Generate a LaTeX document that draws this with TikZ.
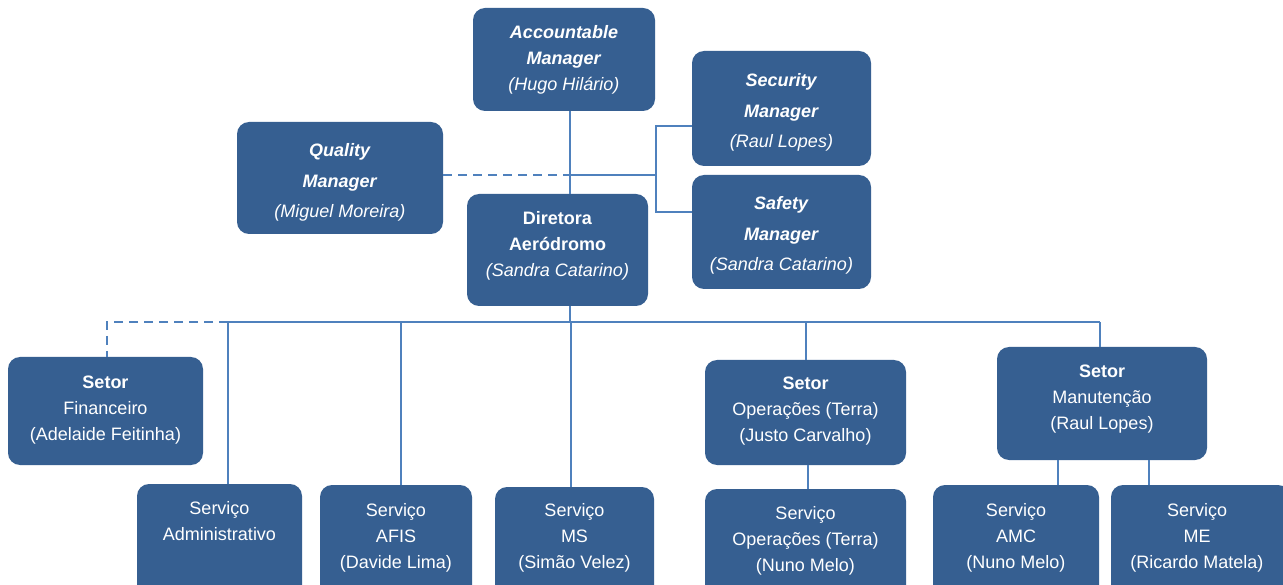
\documentclass[tikz,border=0pt]{standalone}
\usepackage{fontspec}
\setmainfont{Liberation Sans}
\definecolor{boxblue}{HTML}{365F91}
\definecolor{lineblue}{HTML}{4F81BD}
\begin{document}
\begin{tikzpicture}[x=1pt,y=-1pt,
  box/.style={fill=boxblue, rounded corners=12pt, inner sep=0pt},
  txt/.style={text=white, align=center, inner sep=0pt, anchor=north, font=\fontsize{18}{26}\selectfont},
  wtxt/.style={txt, font=\fontsize{18}{30.5}\selectfont},
  link/.style={draw=lineblue, line width=2pt},
  dlink/.style={link, dash pattern=on 9pt off 6pt}]
\clip (0,0) rectangle (1283,585);
\fill[white] (0,0) rectangle (1283,585);
% boxes
\node[box, minimum width=182, minimum height=103] (acc) at (564,59.5) {};
\node[box, minimum width=179, minimum height=115] (sec) at (781.5,108.5) {};
\node[box, minimum width=179, minimum height=114] (saf) at (781.5,232) {};
\node[box, minimum width=206, minimum height=112] (qua) at (340,178) {};
\node[box, minimum width=181, minimum height=112] (dir) at (557.5,250) {};
\node[box, minimum width=195, minimum height=108] (fin) at (105.5,411) {};
\node[box, minimum width=165, minimum height=116] (adm) at (219.5,542) {};
\node[box, minimum width=152, minimum height=115] (afi) at (396,542.5) {};
\node[box, minimum width=159, minimum height=113] (ms) at (574.5,543.5) {};
\node[box, minimum width=201, minimum height=105] (sop) at (805.5,412.5) {};
\node[box, minimum width=201, minimum height=111] (svo) at (805.5,544.5) {};
\node[box, minimum width=210, minimum height=113] (sma) at (1102,403.5) {};
\node[box, minimum width=166, minimum height=115] (amc) at (1016,542.5) {};
\node[box, minimum width=179, minimum height=115] (me) at (1200.5,542.5) {};
% texts
\node[txt] (acct) at (564,25.5) {\textbf{\textit{Accountable}}\\\textbf{\textit{Manager}}\\\textit{(Hugo Hilário)}};
\node[wtxt] (sect) at (781.5,73.5) {\textbf{\textit{Security}}\\\textbf{\textit{Manager}}\\\textit{(Raul Lopes)}};
\node[wtxt] (saft) at (781.5,196.5) {\textbf{\textit{Safety}}\\\textbf{\textit{Manager}}\\\textit{(Sandra Catarino)}};
\node[wtxt] (quat) at (340,143.5) {\textbf{\textit{Quality}}\\\textbf{\textit{Manager}}\\\textit{(Miguel Moreira)}};
\node[txt] (dirt) at (557.5,211.5) {\textbf{Diretora}\\\textbf{Aeródromo}\\\textit{(Sandra Catarino)}};
\node[txt] (fint) at (105.5,375.5) {\textbf{Setor}\\Financeiro\\(Adelaide Feitinha)};
\node[txt] (admt) at (219.5,501.5) {Serviço\\Administrativo};
\node[txt] (afit) at (396,503.5) {Serviço\\AFIS\\(Davide Lima)};
\node[txt] (mst) at (574.5,503.5) {Serviço\\MS\\(Simão Velez)};
\node[txt] (sopt) at (805.5,376.5) {\textbf{Setor}\\Operações (Terra)\\(Justo Carvalho)};
\node[txt] (svot) at (805.5,506.5) {Serviço\\Operações (Terra)\\(Nuno Melo)};
\node[txt] (smat) at (1102,364.5) {\textbf{Setor}\\Manutenção\\(Raul Lopes)};
\node[txt] (amct) at (1016,503.5) {Serviço\\AMC\\(Nuno Melo)};
\node[txt] (met) at (1197,503.5) {Serviço\\ME\\(Ricardo Matela)};
% junctions
\coordinate (j1) at (570,175);
\coordinate (j2) at (656,175);
\coordinate (bus) at (570,322);
\coordinate (busl) at (228,322);
\coordinate (busr) at (1100,322);
\coordinate (dl) at (107,322);
% top connectors
\draw[link] (acc.south -| j1) -- (dir.north -| j1);
\draw[dlink] (qua.east |- j1) -- (j1);
\draw[link] (j1) -- (j2);
\draw[link] (sec.west |- 0,126) -- (656,126) -- (656,212) -- (saf.west |- 0,212);
% bus
\draw[link] (dir.south -| bus) -- (bus);
\draw[link] (busl) -- (busr);
\draw[dlink] (busl) -- (dl) -- (fin.north -| dl);
\draw[link] (busl) -- (adm.north -| busl);
\draw[link] (401,322) -- (afi.north -| 401,0);
\draw[link] (571,322) -- (ms.north -| 571,0);
\draw[link] (sop.north |- bus) -- (sop.north);
\draw[link] (busr) -- (sma.north -| busr);
% lower connectors
\draw[link] (sop.south -| 808,0) -- (svo.north -| 808,0);
\draw[link] (sma.south -| 1058,0) -- (amc.north -| 1058,0);
\draw[link] (sma.south -| 1149,0) -- (me.north -| 1149,0);
\end{tikzpicture}
\end{document}
